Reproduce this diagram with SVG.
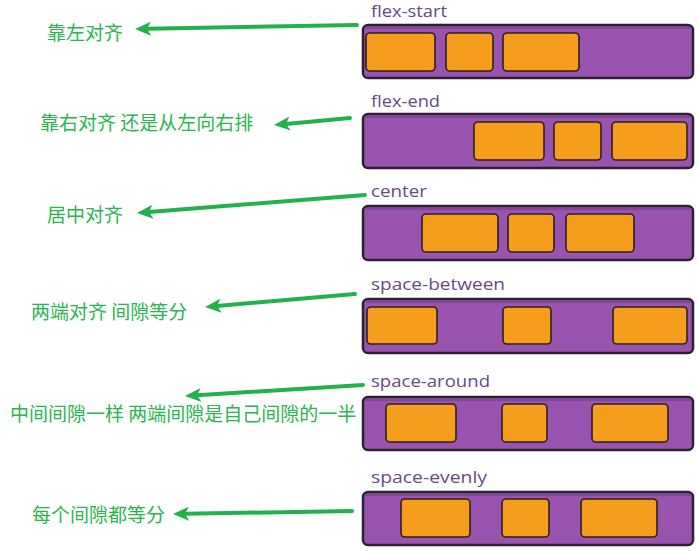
<svg xmlns="http://www.w3.org/2000/svg" width="698" height="551" viewBox="0 0 698 551">
<defs>
<style>
.bar{fill:#9854ae;stroke:#2d2033;stroke-width:2.5}
.hl{fill:none;stroke:#7a3f90;stroke-width:2;opacity:0.7}
.box{fill:#f79d1e;stroke:#2b211c;stroke-width:1.6}
.lbl{font-family:"Open Sans","Liberation Sans",sans-serif;font-size:17px;fill:#654b7f}
.note{font-family:"Noto Sans CJK SC","Noto Sans",sans-serif;font-size:19px;fill:#2bb44f}
.arr{fill:none;stroke:#22b14c;stroke-width:4;stroke-linecap:round}
</style>
<marker id="ah" viewBox="0 0 16 14" refX="4" refY="7" markerWidth="16" markerHeight="14" markerUnits="userSpaceOnUse" orient="auto">
<path d="M16,7 L0,0 L4,7 L0,14 Z" fill="#22b14c"/>
</marker>
</defs>
<rect width="698" height="551" fill="#ffffff"/>

<g id="flex-start">
<text class="lbl" x="371" y="17" textLength="76" lengthAdjust="spacingAndGlyphs">flex-start</text>
<rect class="bar" x="363" y="25" width="330" height="53" rx="5"/>
<path class="hl" d="M366,28 H690"/>
<rect class="box" x="366" y="33" width="69" height="38" rx="4"/>
<rect class="box" x="446" y="33" width="47" height="38" rx="4"/>
<rect class="box" x="503" y="33" width="76" height="38" rx="4"/>
</g>

<g id="flex-end">
<text class="lbl" x="371" y="107" textLength="69" lengthAdjust="spacingAndGlyphs">flex-end</text>
<rect class="bar" x="363" y="114" width="330" height="54" rx="5"/>
<path class="hl" d="M366,117 H690"/>
<rect class="box" x="474" y="122" width="70" height="38" rx="4"/>
<rect class="box" x="554" y="122" width="47" height="38" rx="4"/>
<rect class="box" x="612" y="122" width="75" height="38" rx="4"/>
</g>

<g id="center">
<text class="lbl" x="371" y="197" textLength="56" lengthAdjust="spacingAndGlyphs">center</text>
<rect class="bar" x="363" y="206" width="330" height="54" rx="5"/>
<path class="hl" d="M366,209 H690"/>
<rect class="box" x="422" y="214" width="76" height="38" rx="4"/>
<rect class="box" x="508" y="214" width="46" height="38" rx="4"/>
<rect class="box" x="566" y="214" width="68" height="38" rx="4"/>
</g>

<g id="space-between">
<text class="lbl" x="371" y="290" textLength="134" lengthAdjust="spacingAndGlyphs">space-between</text>
<rect class="bar" x="363" y="299" width="330" height="54" rx="5"/>
<path class="hl" d="M366,302 H690"/>
<rect class="box" x="367" y="307" width="70" height="37" rx="4"/>
<rect class="box" x="503" y="307" width="48" height="37" rx="4"/>
<rect class="box" x="613" y="307" width="74" height="37" rx="4"/>
</g>

<g id="space-around">
<text class="lbl" x="371" y="387" textLength="119" lengthAdjust="spacingAndGlyphs">space-around</text>
<rect class="bar" x="363" y="397" width="330" height="53" rx="5"/>
<path class="hl" d="M366,400 H690"/>
<rect class="box" x="386" y="404" width="70" height="38" rx="4"/>
<rect class="box" x="502" y="404" width="45" height="38" rx="4"/>
<rect class="box" x="592" y="404" width="76" height="38" rx="4"/>
</g>

<g id="space-evenly">
<text class="lbl" x="371" y="483" textLength="116" lengthAdjust="spacingAndGlyphs">space-evenly</text>
<rect class="bar" x="363" y="492" width="330" height="53" rx="5"/>
<path class="hl" d="M366,495 H690"/>
<rect class="box" x="401" y="499" width="69" height="38" rx="4"/>
<rect class="box" x="502" y="499" width="47" height="38" rx="4"/>
<rect class="box" x="581" y="499" width="76" height="38" rx="4"/>
</g>

<g id="note-flex-start"><text class="note" x="47" y="40">靠左对齐</text></g>
<g id="note-flex-end"><text class="note" x="40" y="130">靠右对齐 还是从左向右排</text></g>
<g id="note-center"><text class="note" x="47" y="222">居中对齐</text></g>
<g id="note-space-between"><text class="note" x="31" y="319">两端对齐 间隙等分</text></g>
<g id="note-space-around"><text class="note" x="10" y="421">中间间隙一样 两端间隙是自己间隙的一半</text></g>
<g id="note-space-evenly"><text class="note" x="32" y="522">每个间隙都等分</text></g>

<g id="connectors">
<path class="arr" marker-end="url(#ah)" d="M357,25 L147,28.8"/>
<path class="arr" marker-end="url(#ah)" d="M350,118 L286,123.9"/>
<path class="arr" marker-end="url(#ah)" d="M365,195 L149,212"/>
<path class="arr" marker-end="url(#ah)" d="M355,294 L217,306"/>
<path class="arr" marker-end="url(#ah)" d="M363,385 L197,395.2"/>
<path class="arr" marker-end="url(#ah)" d="M352,511 L185,513.8"/>
</g>
</svg>
